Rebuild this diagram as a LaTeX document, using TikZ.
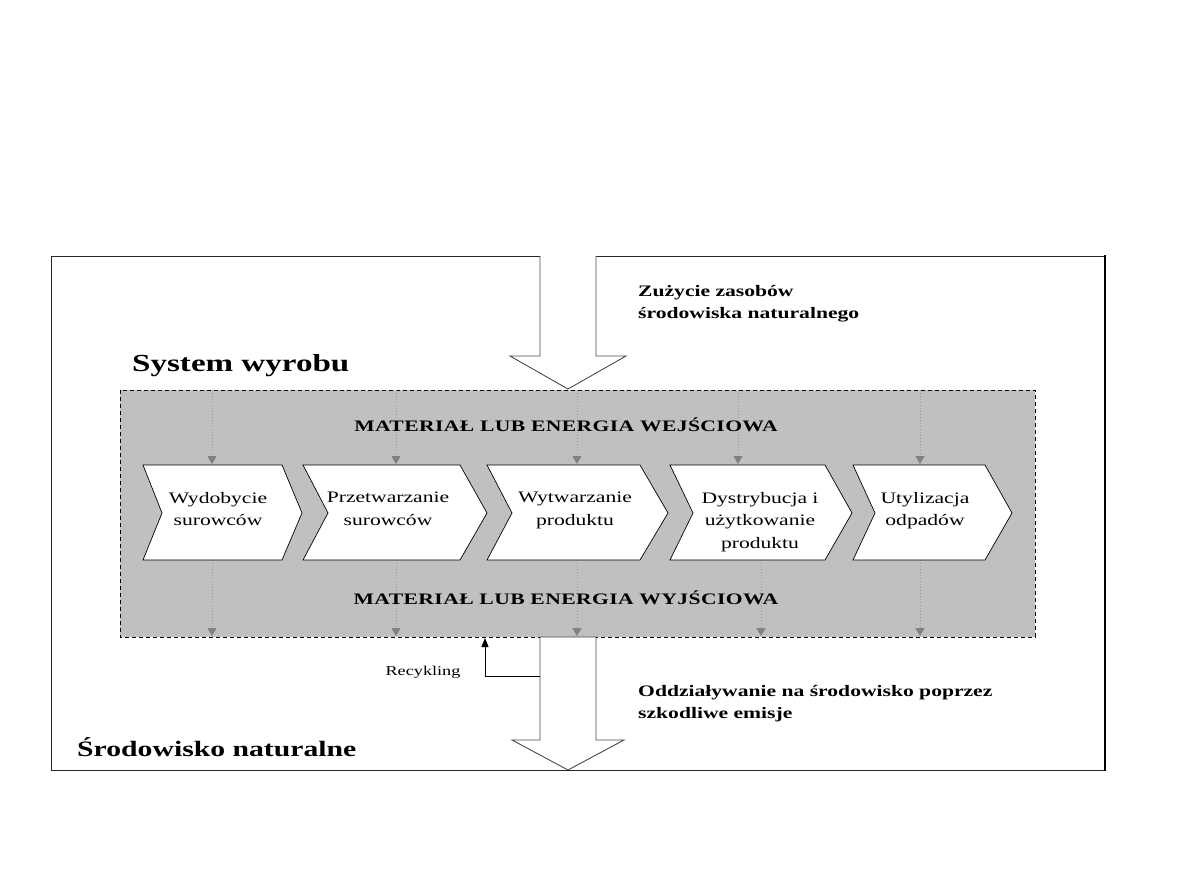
\documentclass[tikz,border=0pt]{standalone}
\usepackage{fontspec}
\setmainfont{Liberation Serif}[FakeStretch=1.35]
\usetikzlibrary{arrows.meta}
\definecolor{boxgray}{HTML}{C0C0C0}
\definecolor{dotgray}{HTML}{9A9A9A}
\definecolor{headgray}{HTML}{808080}
\definecolor{linegray}{HTML}{4A4A4A}
\begin{document}
\begin{tikzpicture}[x=1pt,y=-1pt,
  chev/.style={fill=white,draw=black,line width=0.7pt,line join=miter},
  flowarrow/.style={draw=linegray,line width=0.9pt,line join=miter},
  feed/.style={draw=dotgray,dotted,line width=1pt,
    -{Triangle[width=9pt,length=8pt,color=headgray]}},
  steptext/.style={font=\fontsize{16}{22.5}\selectfont,align=center,inner sep=0pt,anchor=north},
  captext/.style={font=\bfseries\fontsize{16}{20}\selectfont\addfontfeature{LetterSpace=2.5},inner sep=0pt,anchor=base},
  sidetext/.style={font=\bfseries\fontsize{16}{22.5}\selectfont,align=left,inner sep=0pt,anchor=north west},
  bigtitle/.style={font=\bfseries\fontsize{24.5}{28}\selectfont,inner sep=0pt,anchor=base west}
]
\useasboundingbox (0,0) rectangle (1191,893);
% outer frame
\draw[line width=0.8pt,draw=black!85] (51,256) rectangle (1105,770);
\draw[line width=2pt] (1105,255) -- (1105,771);
% product system box
\draw[fill=boxgray,dash pattern=on 4pt off 3pt,line width=0.7pt] (120,390) rectangle (1035,637);
% input arrow (resources)
\coordinate (inTopL) at (540,256);
\coordinate (inTopR) at (596,256);
\coordinate (inTip) at (568,389);
\fill[white] (540,254) -- (540,356) -- (510,356) -- (inTip) -- (626,356) -- (596,356) -- (596,254) -- cycle;
\draw[flowarrow] (inTopL) -- (540,356) -- (510,356) -- (inTip) -- (626,356) -- (596,356) -- (inTopR);
% feed arrows in
\foreach \x/\n in {212/a,396/b,577/c,738/d,920/e}{
  \coordinate (fi\n) at (\x,390);
  \coordinate (fj\n) at (\x,464);
  \draw[feed] (fi\n) -- (fj\n);
}
% feed arrows out
\foreach \x/\n in {212/a,396/b,577/c,761/d,920/e}{
  \coordinate (fo\n) at (\x,560);
  \coordinate (fp\n) at (\x,636);
  \draw[feed] (fo\n) -- (fp\n);
}
% chevrons
\foreach \l/\nn/\r/\t in {143/162/282/302, 303/328/460/487, 487/512/640/668, 670/693/825/852, 853/875/985/1012}{
  \draw[chev] (\l,465) -- (\r,465) -- (\t,513) -- (\r,560) -- (\l,560) -- (\nn,513) -- cycle;
}
\node[steptext] (t1) at (218,492) {Wydobycie\\surowców};
\node[steptext] (t2) at (388,492) {Przetwarzanie\\surowców};
\node[steptext] (t3) at (575,492) {Wytwarzanie\\produktu};
\node[steptext] (t4) at (760,492) {Dystrybucja i\\użytkowanie\\produktu};
\node[steptext] (t5) at (925,492) {Utylizacja\\odpadów};
% captions
\node[captext] (inlab) at (566,431) {MATERIAŁ LUB ENERGIA WEJŚCIOWA};
\node[captext] (outlab) at (566,604) {MATERIAŁ LUB ENERGIA WYJŚCIOWA};
\node[bigtitle] (systitle) at (132,371) {System wyrobu};
\node[bigtitle,font=\bfseries\fontsize{22}{26}\selectfont] (envtitle) at (77,756) {Środowisko naturalne};
\node[sidetext] (reslab) at (638,285) {Zużycie zasobów\\środowiska naturalnego};
\node[sidetext] (emislab) at (638,685) {Oddziaływanie na środowisko poprzez\\szkodliwe emisje};
% output arrow (emissions)
\coordinate (outTopL) at (540,637);
\coordinate (outTopR) at (596,637);
\coordinate (outTip) at (568,770);
\draw[flowarrow,fill=white] (outTopL) -- (540,740) -- (512,740) -- (outTip) -- (624,740) -- (596,740) -- (outTopR) -- cycle;
% recycling
\coordinate (recStart) at (540,676);
\coordinate (recEnd) at (485,638);
\draw[line width=0.9pt,-{Triangle[width=7pt,length=9pt]}] (recStart) -| (recEnd);
\node[font=\fontsize{13.5}{16}\selectfont,inner sep=0pt] (reclab) at (423,672) {Recykling};
\end{tikzpicture}
\end{document}
